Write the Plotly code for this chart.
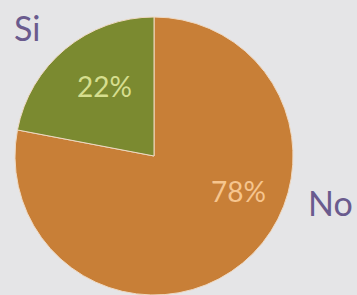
import plotly.graph_objects as go

labels = ["No", "Si"]
values = [78, 22]
colors = ["#c87f37", "#7b8a30"]
pct_colors = ["#f6c58e", "#d6de8e"]

W, H = 357, 295
BG = "#e5e5e7"
PURPLE = "#6a5b8e"
FONT = "Lato, 'Open Sans', sans-serif"

fig = go.Figure(go.Pie(
    labels=labels,
    values=values,
    sort=False,
    direction="clockwise",
    rotation=0,
    marker=dict(colors=colors, line=dict(color="#efd9c2", width=1)),
    textinfo="none",
    hoverinfo="label+percent",
    showlegend=False,
    domain=dict(x=[14 / W, 294 / W], y=[0, 278 / H]),
))

def px(x, y):
    return x / W, 1 - y / H

label_pos = {"Si": (12, 27), "No": (306, 202)}
pct_pos = {"Si": (104, 86), "No": (239, 191)}

annos = []
for lab, v, c in zip(labels, values, pct_colors):
    ax, ay = px(*label_pos[lab])
    annos.append(dict(x=ax, y=ay, xref="paper", yref="paper", text=lab,
                      showarrow=False, xanchor="left", yanchor="middle",
                      font=dict(family=FONT, size=34, color=PURPLE)))
    ax, ay = px(*pct_pos[lab])
    annos.append(dict(x=ax, y=ay, xref="paper", yref="paper", text=f"{v}%",
                      showarrow=False, xanchor="center", yanchor="middle",
                      font=dict(family=FONT, size=28, color=c)))

fig.update_layout(
    width=W, height=H,
    margin=dict(l=0, r=0, t=0, b=0),
    paper_bgcolor=BG, plot_bgcolor=BG,
    annotations=annos,
)

fig.write_html(
    "out.html",
    config={"displayModeBar": False},
    post_script="document.body.style.margin='0px';document.body.style.overflow='hidden';",
)
